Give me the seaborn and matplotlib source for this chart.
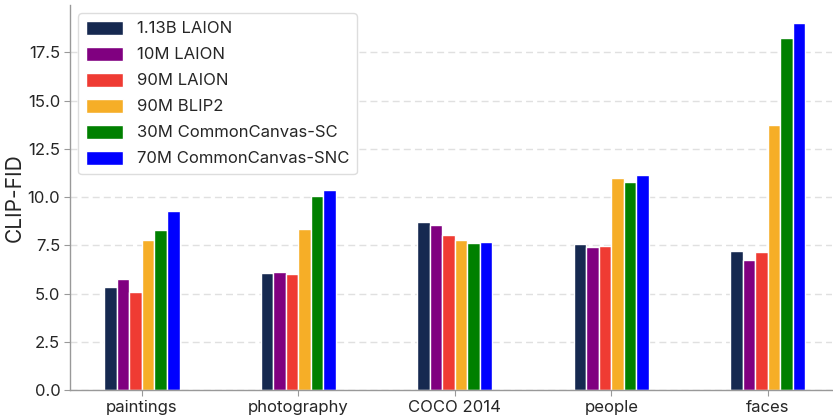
import numpy as np
import pandas as pd
import matplotlib
matplotlib.use('Agg')
import matplotlib.pyplot as plt
import seaborn as sns

categories = ['paintings', 'photography', 'COCO 2014', 'people', 'faces']
models = ['1.13B LAION', '10M LAION', '90M LAION', '90M BLIP2',
          '30M CommonCanvas-SC', '70M CommonCanvas-SNC']
colors = ['#162950', '#800080', '#ef3b33', '#f6ae27', '#008000', '#0000ff']

laion_1b = [5.33, 6.06, 8.70, 7.56, 7.20]
laion_10m = [5.75, 6.11, 8.54, 7.41, 6.73]
laion_90m = [5.07, 6.00, 8.03, 7.46, 7.15]
blip2_90m = [7.77, 8.34, 7.77, 10.98, 13.72]
cc_sc_30m = [8.29, 10.05, 7.61, 10.77, 18.23]
cc_snc_70m = [9.27, 10.36, 7.66, 11.13, 19.00]

series = [laion_1b, laion_10m, laion_90m, blip2_90m, cc_sc_30m, cc_snc_70m]
rows = []
for model, vals in zip(models, series):
    for cat, v in zip(categories, vals):
        rows.append({'category': cat, 'model': model, 'clip_fid': v})
df = pd.DataFrame(rows)

sns.set_style('white')
plt.rcParams['font.family'] = ['Inter', 'DejaVu Sans']

fig = plt.figure(figsize=(8.33, 4.15), dpi=100)
ax = fig.add_axes([70 / 833, 25 / 415, 762 / 833, 385 / 415])

sns.barplot(data=df, x='category', y='clip_fid', hue='model',
            hue_order=models, palette=colors, width=0.48,
            edgecolor='white', linewidth=1, saturation=1, ax=ax)

ax.set_xlim(-0.46, 4.41)
ax.set_ylim(0, 19.95)
ticks = np.arange(0, 19, 2.5)
ax.set_yticks(ticks)
ax.set_yticklabels([f'{t:.1f}' for t in ticks])
ax.yaxis.grid(True, linestyle=(0, (5, 3)), color='#e0e0e0', linewidth=1)
ax.set_axisbelow(True)

for s in ['top', 'right']:
    ax.spines[s].set_visible(False)
for s in ['left', 'bottom']:
    ax.spines[s].set_color('#999999')
    ax.spines[s].set_linewidth(1)

ax.tick_params(axis='both', labelsize=12, length=4, color='#999999',
               direction='out', bottom=True, left=True, pad=3)
ax.set_xlabel('')
ax.set_ylabel('CLIP-FID', fontsize=15)
ax.yaxis.set_label_coords(-0.059, 0.5)

ax.legend(loc='upper left', fontsize=12, frameon=True, handlelength=2.2,
          handleheight=0.9, handletextpad=0.85, borderaxespad=0.5,
          borderpad=0.45, edgecolor='#dddddd', framealpha=1,
          labelspacing=0.62)

fig.savefig('out.png', dpi=100)
